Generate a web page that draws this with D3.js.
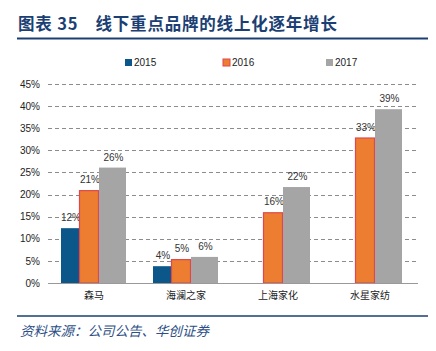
<!DOCTYPE html>
<html><head><meta charset="utf-8">
<script src="https://cdn.jsdelivr.net/npm/d3@7/dist/d3.min.js"></script>
<style>body{margin:0;background:#fff;}svg{display:block;}</style>
</head><body>
<svg id="c" width="436" height="351"></svg>
<script>
const categories = ["森马","海澜之家","上海家化","水星家纺"];
const seriesNames = ["2015","2016","2017"];
const v2015 = [0.124, 0.038, null, null];
const v2016 = [0.210, 0.054, 0.160, 0.329];
const v2017 = [0.261, 0.059, 0.217, 0.393];
const yTicks = [0,0.05,0.10,0.15,0.20,0.25,0.30,0.35,0.40,0.45];
const titleText = "图表 35　线下重点品牌的线上化逐年增长";
const sourceText = "资料来源：公司公告、华创证券";

const colors = ["#0b5789","#ed7d31","#a5a5a5"];
const series = [v2015, v2016, v2017];
const svg = d3.select("#c");
const L = 48, R = 416, T = 84, B = 283;

const x = d3.scaleBand().domain(categories).range([L, R]);
const y = d3.scaleLinear().domain([0,0.45]).range([B, T]);

// title
svg.append("text").attr("x",18).attr("y",30).attr("fill","#1b3f73")
  .attr("font-family","Noto Sans CJK SC").attr("font-weight","bold").attr("font-size",16.5)
  .attr("letter-spacing",0.8).text(titleText);
svg.append("line").attr("x1",17).attr("x2",428).attr("y1",38.5).attr("y2",38.5)
  .attr("stroke","#1b3f73").attr("stroke-width",2);

// grid
svg.append("g").selectAll("line").data(yTicks.filter(d=>d>0)).join("line")
  .attr("x1",L).attr("x2",418).attr("y1",d=>Math.round(y(d))+0.5).attr("y2",d=>Math.round(y(d))+0.5)
  .attr("stroke","#8c8c8c").attr("stroke-width",1).attr("stroke-dasharray","4,3");

// y axis labels
const yAxis = d3.axisLeft(y).tickValues(yTicks).tickFormat(d=>Math.round(d*100)+"%").tickSize(0).tickPadding(0);
const gy = svg.append("g").attr("transform",`translate(40,0)`).call(yAxis);
gy.select(".domain").remove();
gy.selectAll("text").attr("font-family","Liberation Sans, Arial").attr("font-size",10).attr("fill","#222");

// bars
const offs = [[-33,18],[-15,20],[5,27]];
series.forEach((vals,si)=>{
  const g = svg.append("g");
  const data = categories.map((c,i)=>({c,v:vals[i]})).filter(d=>d.v!=null);
  g.selectAll("rect").data(data).join("rect")
    .attr("x",d=>x(d.c)+x.bandwidth()/2+offs[si][0] + (si===1?0.5:0))
    .attr("y",d=>y(d.v)+(si===1?0.5:0))
    .attr("width",offs[si][1]-(si===1?1:0))
    .attr("height",d=>B-y(d.v)-(si===1?0.5:0))
    .attr("fill",colors[si])
    .attr("stroke",si===1?"#e0474c":"none").attr("stroke-width",si===1?1.2:0);
  g.selectAll("text").data(data).join("text")
    .attr("x",d=>x(d.c)+x.bandwidth()/2+offs[si][0]+offs[si][1]/2+1)
    .attr("y",d=>y(d.v)-7)
    .attr("text-anchor","middle").attr("font-family","Liberation Sans, Arial").attr("font-size",10)
    .attr("fill","#333").text(d=>Math.round(d.v*100)+"%");
});

// x axis
svg.append("line").attr("x1",L).attr("x2",418).attr("y1",B+0.5).attr("y2",B+0.5).attr("stroke","#999").attr("stroke-width",1);
const xAxis = d3.axisBottom(x).tickSize(0).tickPadding(0);
const gx = svg.append("g").attr("transform",`translate(0,${B+9})`).call(xAxis);
gx.select(".domain").remove();
gx.selectAll("text").attr("font-family","Noto Sans CJK SC").attr("font-size",10).attr("fill","#222");

// legend
const legX = [125,223,326];
seriesNames.forEach((n,i)=>{
  svg.append("rect").attr("x",legX[i]).attr("y",59).attr("width",7).attr("height",7)
    .attr("fill",colors[i]).attr("stroke",i===1?"#e0474c":"none").attr("stroke-width",1);
  svg.append("text").attr("x",legX[i]+9).attr("y",66).attr("font-family","Liberation Sans, Arial")
    .attr("font-size",10).attr("fill","#222").text(n);
});

// footer
svg.append("line").attr("x1",17).attr("x2",428).attr("y1",316).attr("y2",316)
  .attr("stroke","#1b3f73").attr("stroke-width",1.5);
svg.append("text").attr("x",20).attr("y",336).attr("fill","#2d4f86")
  .attr("font-family","Noto Sans CJK SC").attr("font-style","italic").attr("font-size",13.5)
  .text(sourceText);
</script>
</body></html>
